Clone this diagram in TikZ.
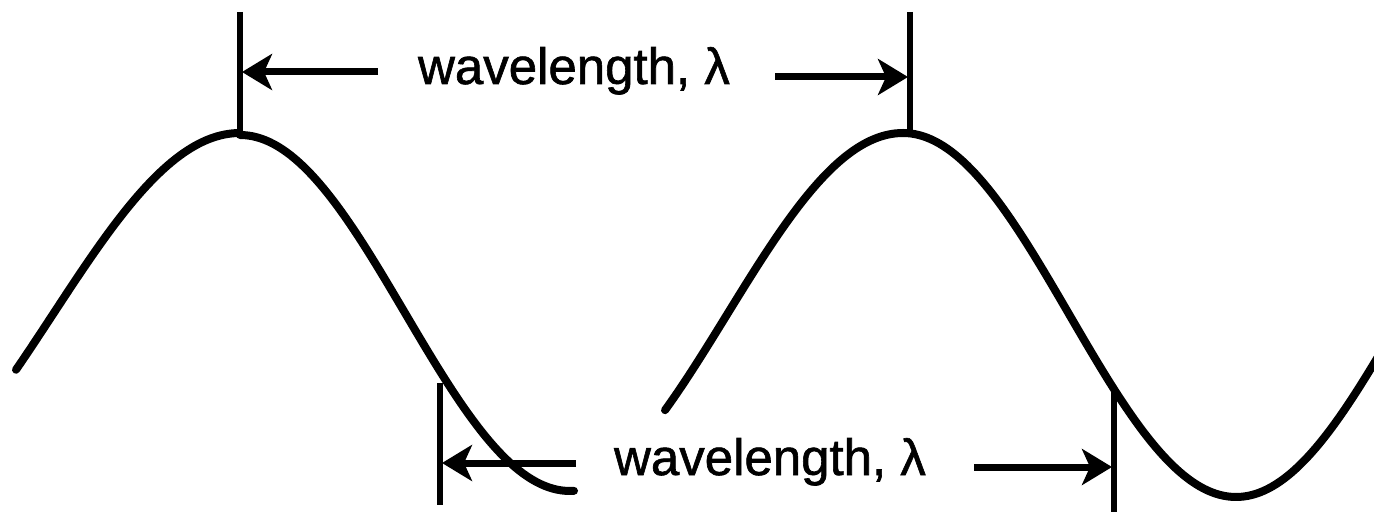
\documentclass[tikz,border=0pt]{standalone}
\usepackage{fontspec}
\setmainfont{Liberation Sans}
\newfontfamily\labfont{Liberation Sans}[FakeBold=1.2]
\usetikzlibrary{arrows.meta}
\begin{document}
\begin{tikzpicture}[x=0.5pt,y=-0.5pt,
  wave/.style={line width=4pt, line cap=round, line join=round},
  tick/.style={line width=3pt},
  dim/.style={line width=3.5pt, -{Stealth[length=15pt,width=18pt,inset=4pt]}},
  lab/.style={font=\labfont\fontsize{25.5pt}{30pt}\selectfont, inner sep=0pt, anchor=base}]
\useasboundingbox (0,0) rectangle (1374,512);
% waves
\draw[wave] plot[domain=16:240, samples=60] (\x, {315-182*cos((\x-240)/750*360)})
  -- plot[domain=240:574, samples=80] (\x, {313-178*cos((\x-240)/660*360)});
\draw[wave] plot[domain=665:903, samples=60] (\x, {315-182*cos((\x-903)/705*360)})
  -- plot[domain=903:1380, samples=120] (\x, {315-182*cos((\x-903)/666*360)});
% tick lines
\coordinate (t1a) at (240,12);   \coordinate (t1b) at (240,133);
\coordinate (t2a) at (910,12);   \coordinate (t2b) at (910,135);
\coordinate (t3a) at (440,383);  \coordinate (t3b) at (440,505);
\coordinate (t4a) at (1114,390); \coordinate (t4b) at (1114,512);
\draw[tick] (t1a) -- (t1b);
\draw[tick] (t2a) -- (t2b);
\draw[tick] (t3a) -- (t3b);
\draw[tick] (t4a) -- (t4b);
% labels
\node[lab] (lab1) at (574,84) {wavelength, λ};
\node[lab] (lab2) at (770,475) {wavelength, λ};
% arrows
\coordinate (a1s) at (378,72);  \coordinate (a1e) at (242,72);
\coordinate (a2s) at (775,77);  \coordinate (a2e) at (908,77);
\coordinate (a3s) at (576,463); \coordinate (a3e) at (442,463);
\coordinate (a4s) at (974,467); \coordinate (a4e) at (1112,467);
\draw[dim] (a1s) -- (a1e);
\draw[dim] (a2s) -- (a2e);
\draw[dim] (a3s) -- (a3e);
\draw[dim] (a4s) -- (a4e);
\end{tikzpicture}
\end{document}
